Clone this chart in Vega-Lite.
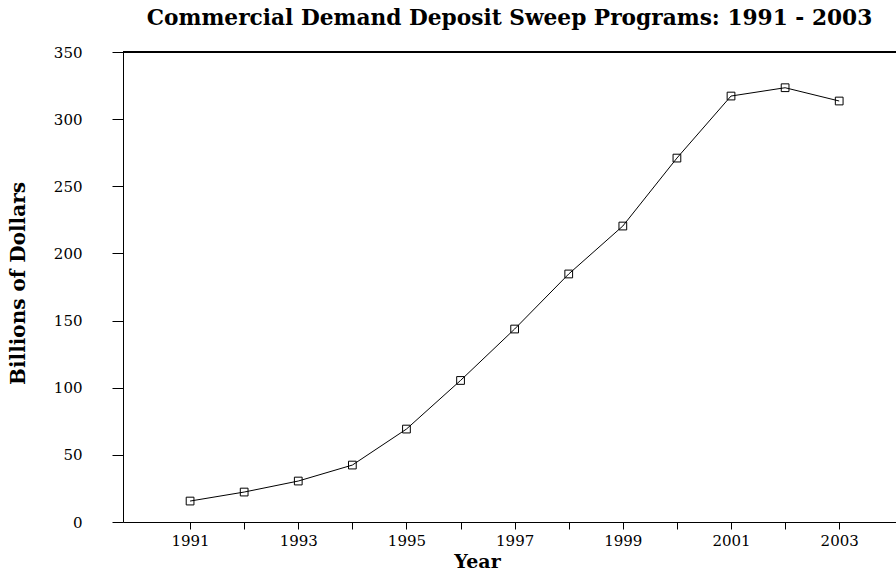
{
  "$schema": "https://vega.github.io/schema/vega-lite/v6.json",
  "width": 773,
  "height": 470,
  "autosize": {"type": "none"},
  "padding": {"left": 123, "top": 52, "right": 0, "bottom": 50},
  "background": "white",
  "title": {
    "text": "Commercial Demand Deposit Sweep Programs: 1991 - 2003",
    "font": "DejaVu Serif",
    "fontSize": 21.7,
    "fontWeight": "bold",
    "color": "black",
    "anchor": "middle",
    "offset": 15
  },
  "data": {
    "values": [
      {"year": 1991, "value": 15.6},
      {"year": 1992, "value": 22.3},
      {"year": 1993, "value": 30.5},
      {"year": 1994, "value": 42.4},
      {"year": 1995, "value": 69.2},
      {"year": 1996, "value": 105.4},
      {"year": 1997, "value": 143.7},
      {"year": 1998, "value": 184.7},
      {"year": 1999, "value": 220.4},
      {"year": 2000, "value": 271.0},
      {"year": 2001, "value": 317.2},
      {"year": 2002, "value": 323.4},
      {"year": 2003, "value": 313.5}
    ]
  },
  "layer": [
    {
      "mark": {"type": "rule", "color": "black", "strokeWidth": 1},
      "encoding": {"y": {"datum": 350, "type": "quantitative"}}
    },
    {
      "mark": {
        "type": "line",
        "color": "black",
        "strokeWidth": 1,
        "point": {"shape": "square", "filled": false, "color": "black", "size": 60, "strokeWidth": 1}
      },
      "encoding": {
        "x": {
          "field": "year",
          "type": "quantitative",
          "scale": {"domain": [1989.76, 2004.05], "nice": false, "zero": false},
          "axis": {
            "title": "Year",
            "titleX": 354,
            "titleY": 39,
            "titleBaseline": "middle",
            "values": [1991, 1992, 1993, 1994, 1995, 1996, 1997, 1998, 1999, 2000, 2001, 2002, 2003],
            "labelExpr": "datum.value % 2 == 1 ? datum.value : ''",
            "format": "d",
            "tickSize": 7,
            "labelPadding": 4,
            "grid": false
          }
        },
        "y": {
          "field": "value",
          "type": "quantitative",
          "scale": {"domain": [0, 350], "nice": false},
          "axis": {
            "title": "Billions of Dollars",
            "titleX": -105,
            "titleY": 231,
            "titleAngle": -90,
            "titleAlign": "center",
            "titleBaseline": "middle",
            "titleFontSize": 20,
            "values": [0, 50, 100, 150, 200, 250, 300, 350],
            "tickSize": 11,
            "labelPadding": 30,
            "grid": false
          }
        }
      }
    }
  ],
  "config": {
    "view": {"stroke": null},
    "axis": {
      "domainColor": "black",
      "tickColor": "black",
      "labelColor": "black",
      "titleColor": "black",
      "labelFont": "DejaVu Serif",
      "titleFont": "DejaVu Serif",
      "labelFontSize": 15,
      "titleFontSize": 19,
      "titleFontWeight": "bold",
      "domainWidth": 1,
      "tickWidth": 1
    }
  }
}
